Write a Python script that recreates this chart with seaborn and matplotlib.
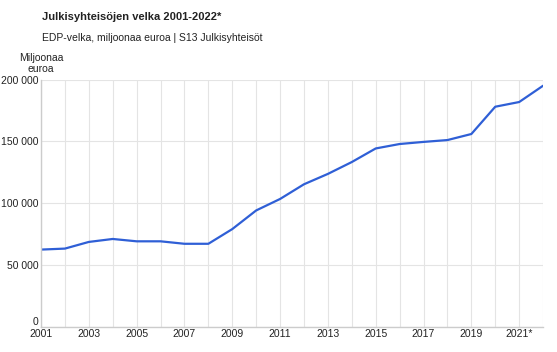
import seaborn as sns
import matplotlib.pyplot as plt
import pandas as pd
import numpy as np

# EDP debt, million euro
years = list(range(2001, 2023))
debt = [62300, 63100, 68500, 70900, 69000, 69000, 67000, 67000, 78900, 94000,
        103300, 115200, 123600, 133200, 144200, 147800, 149500, 151000, 155900,
        178000, 181800, 195000]
xtick_years = list(range(2001, 2023, 2))
xtick_labels = [str(y) for y in xtick_years[:-1]] + ["2021*"]
ytick_values = [0, 50000, 100000, 150000, 200000]
ytick_labels = ["0", "50 000", "100 000", "150 000", "200 000"]

df = pd.DataFrame({"Vuosi": years, "Velka": debt})

sns.set_style("white")
plt.rcParams['font.family'] = ['Liberation Sans', 'DejaVu Sans']

fig = plt.figure(figsize=(5.57, 3.52), dpi=100)
ax = fig.add_axes([0.0736, 0.0724, 0.9014, 0.7016])

sns.lineplot(x="Vuosi", y="Velka", data=df, color="#2f5fd6", linewidth=1.6, ax=ax)

ax.set_xlim(2001, 2022)
ax.set_ylim(0, 200000)
# gridline every year, label every second year
ax.set_xticks(years)
ax.set_xticklabels([xtick_labels[xtick_years.index(y)] if y in xtick_years else ""
                    for y in years], fontsize=7.5)
ax.set_yticks(ytick_values)
ax.set_yticklabels(ytick_labels, fontsize=7.5)
ax.tick_params(axis="both", length=0, pad=2, colors="#222222")
for lab in ax.get_yticklabels():
    if lab.get_text() == "0":
        lab.set_va("bottom")
ax.grid(True, color="#e4e4e4", linewidth=0.8)
ax.set_xlabel("")
ax.set_ylabel("")

for side in ["top", "right"]:
    ax.spines[side].set_visible(False)
for side in ["left", "bottom"]:
    ax.spines[side].set_color("#cccccc")
    ax.spines[side].set_linewidth(1)

fig.text(42 / 557, 1 - 17 / 352, "Julkisyhteisöjen velka 2001-2022*", fontsize=8,
         fontweight="bold", color="#222222", ha="left", va="center")
fig.text(42 / 557, 1 - 38 / 352, "EDP-velka, miljoonaa euroa | S13 Julkisyhteisöt",
         fontsize=7.5, color="#222222", ha="left", va="center")
fig.text(41 / 557, 1 - 63.5 / 352, "Miljoonaa\neuroa", fontsize=7.5, color="#222222",
         ha="center", va="center", linespacing=1.15)

plt.savefig("out.png", dpi=100)
